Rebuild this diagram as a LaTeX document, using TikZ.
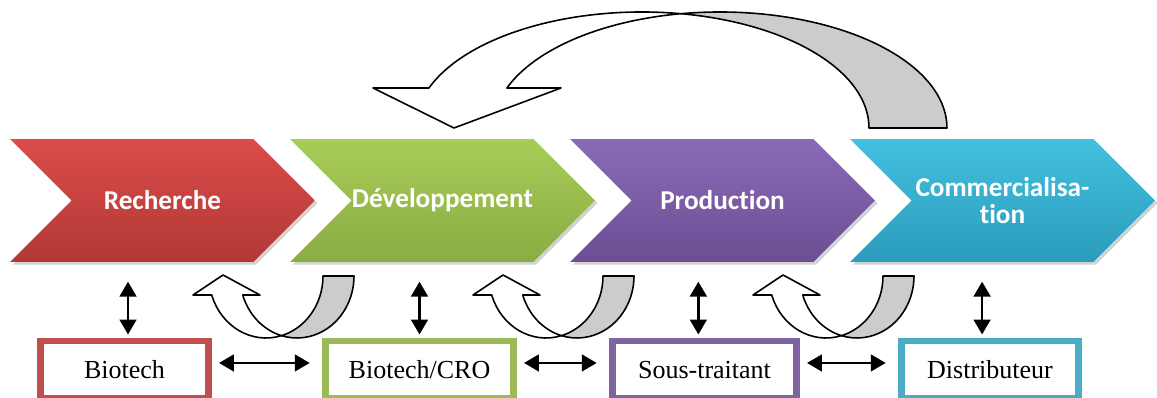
\documentclass[tikz,border=0pt]{standalone}
\usepackage{fontspec}
\setmainfont{Liberation Serif}
\newfontfamily\stagefont{Carlito}[Ligatures=NoCommon]
\usetikzlibrary{shapes.symbols,arrows.meta,shadows}

\definecolor{cRed}{HTML}{C0504D}
\definecolor{cGreen}{HTML}{9BBB59}
\definecolor{cPurple}{HTML}{8064A2}
\definecolor{cCyan}{HTML}{4BACC6}

\tikzset{
  stage/.style={signal, signal from=west, signal to=east, signal pointer angle=90,
    minimum width=6.1cm, minimum height=2.46cm, inner sep=0pt, text=white, align=center,
    font=\stagefont\bfseries\fontsize{15.5}{15.5}\selectfont,
    drop shadow={shadow xshift=1.5pt, shadow yshift=-1.5pt, opacity=0.35}},
  partner/.style={draw, line width=3.7pt, fill=white, minimum height=1.15cm, inner sep=0pt,
    font=\fontsize{14.8}{17}\selectfont},
  dbl/.style={{Triangle[length=8.5pt,width=9.5pt]}-{Triangle[length=8.5pt,width=9.5pt]},
    line width=1.5pt},
  band/.style={draw, line width=0.9pt, line join=round},
  pics/uturn/.style={code={
    % back of the ribbon
    \path[band, fill=gray!40] (15.5,-59.66)
      arc[start angle=285.78, end angle=360, x radius=57, y radius=62] -- (88,0)
      arc[start angle=0, end angle=-105.78, x radius=57, y radius=62] -- cycle;
    % front with head
    \path[band, fill=white] (15.5,-59.66)
      arc[start angle=285.78, end angle=197.85, x radius=57, y radius=62]
      -- (-73,-19) -- (-43,1) -- (-6,-19) -- (-23.25,-19)
      arc[start angle=197.85, end angle=254.22, x radius=57, y radius=62] -- cycle;
  }}
}

\begin{document}
\begin{tikzpicture}[x=0.02cm, y=0.02cm]
  \useasboundingbox (0,0) rectangle (1157,398);

  % stages
  \node[stage, top color={rgb,255:red,218;green,76;blue,74}, bottom color={rgb,255:red,178;green,56;blue,54}] (rech) at (162.5,197.5) {Recherche};
  \node[stage, top color={rgb,255:red,168;green,204;blue,88}, bottom color={rgb,255:red,138;green,172;blue,66}] (dev) at (442.5,197.5) {Développement};
  \node[stage, top color={rgb,255:red,138;green,106;blue,182}, bottom color={rgb,255:red,108;green,78;blue,148}] (prod) at (722.5,197.5) {Production};
  \node[stage, top color={rgb,255:red,66;green,192;blue,222}, bottom color={rgb,255:red,44;green,156;blue,188}] (comm) at (1002.5,197.5) {Commercialisa-\\tion};

  % partners
  \node[partner, draw=cRed, minimum width=3.37cm] (biot) at (124.5,28) {Biotech};
  \node[partner, draw=cGreen, minimum width=3.77cm] (cro) at (419.5,28) {Biotech/CRO};
  \node[partner, draw=cPurple, minimum width=3.69cm] (sous) at (704.5,28) {Sous-traitant};
  \node[partner, draw=cCyan, minimum width=3.55cm] (dist) at (990,28) {Distributeur};

  \draw[dbl, shorten <=11pt, shorten >=2pt] ([xshift=2pt]biot.north |- rech.south) -- ([xshift=2pt]biot.north);
  \draw[dbl, shorten <=11pt, shorten >=2pt] (cro.north |- dev.south) -- (cro.north);
  \draw[dbl, shorten <=11pt, shorten >=2pt] ([xshift=-3.5pt]sous.north |- prod.south) -- ([xshift=-3.5pt]sous.north);
  \draw[dbl, shorten <=11pt, shorten >=2pt] ([xshift=-4.5pt]dist.north |- comm.south) -- ([xshift=-4.5pt]dist.north);

  \draw[dbl, shorten <=4pt, shorten >=7pt] ([yshift=4pt]biot.east) -- ([yshift=4pt]cro.west);
  \draw[dbl, shorten <=4pt, shorten >=7pt] ([yshift=4pt]cro.east) -- ([yshift=4pt]sous.west);
  \draw[dbl, shorten <=4pt, shorten >=7pt] ([yshift=4pt]sous.east) -- ([yshift=4pt]dist.west);

  % feedback arrows
  \foreach \ux in {266,546,826}
    \pic at (\ux,122) {uturn};

  \path[band, fill=gray!40] (681,384.28)
    arc[start angle=99.89, end angle=0, x radius=227, y radius=116] -- (869,270)
    arc[start angle=0, end angle=80.11, x radius=227, y radius=116] -- cycle;
  \path[band, fill=white] (681,384.28)
    arc[start angle=80.11, end angle=159.83, x radius=227, y radius=116]
    -- (373,310) -- (454,270) -- (561,310) -- (506.9,310)
    arc[start angle=159.83, end angle=99.89, x radius=227, y radius=116] -- cycle;
\end{tikzpicture}
\end{document}
